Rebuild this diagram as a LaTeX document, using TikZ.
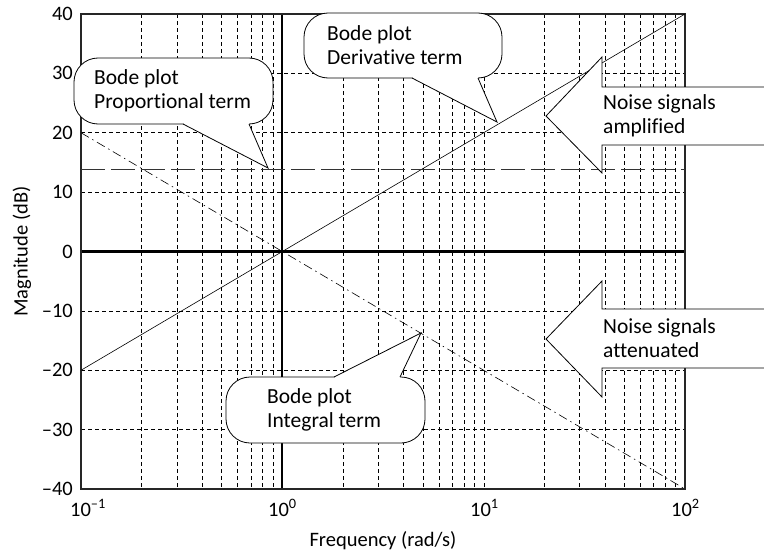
\documentclass[tikz,border=0pt]{standalone}
\usepackage{fontspec}
\setmainfont{Carlito}[Ligatures={NoCommon,NoDiscretionary,NoContextual}]
\begin{document}
\begin{tikzpicture}[x=1pt,y=-1pt,
  gridline/.style={black, line width=0.7pt, dash pattern=on 4pt off 3pt},
  boldline/.style={black, line width=2.2pt},
  frameline/.style={black!85, line width=1.1pt},
  callout/.style={draw=black, fill=white, line width=0.8pt},
  bigarrow/.style={draw=black, fill=white, line width=0.8pt},
  lbl/.style={font=\fontsize{20.5}{24}\selectfont, inner sep=0pt},
  txt/.style={font=\fontsize{21.5}{23.5}\selectfont, align=left, inner sep=0pt}]
\useasboundingbox (0,0) rectangle (764,554);
% grid
\foreach \k in {0,1,2}{
  \foreach \m in {2,...,9}{
    \pgfmathsetmacro\xx{81+201.33*(\k+log10(\m))}
    \draw[gridline] (\xx,14) -- (\xx,489);
  }
}
\draw[gridline] (484.33,14) -- (484.33,489);
\foreach \d in {-30,-20,-10,10,20,30}{
  \pgfmathsetmacro\yy{251.5-5.9375*\d}
  \draw[gridline] (81,\yy) -- (685,\yy);
}
% bold axes lines
\draw[boldline] (282.33,14) -- (282.33,489);
\draw[boldline] (81,251.5) -- (685,251.5);
% frame
\draw[frameline] (81,14) rectangle (685,489);
% curves
\draw[black, line width=0.6pt] (81,370.25) -- (685,14);
\draw[black, line width=0.6pt, dash pattern=on 9pt off 4pt on 1.5pt off 4pt] (81,132.75) -- (685,489);
\draw[black!80, line width=0.8pt, dash pattern=on 24pt off 6pt] (81,169) -- (685,169);
% callout: proportional
\draw[callout, rounded corners=24pt] (74,58) rectangle (273,124);
\fill[white] (183.5,122.5) -- (183.5,124) -- (268,168) -- (249,124) -- (249,122.5) -- cycle;
\draw[black, line width=0.8pt] (183,124) -- (268,168) -- (249,124);
\node[txt, anchor=west] (prop) at (94,91) {Bode plot\\Proportional term};
% callout: derivative
\draw[callout, rounded corners=24pt] (304,13) rectangle (502,78);
\fill[white] (412.5,76.5) -- (412.5,78) -- (497,122) -- (478,78) -- (478,76.5) -- cycle;
\draw[black, line width=0.8pt] (412,78) -- (497,122) -- (478,78);
\node[txt, anchor=west] (deriv) at (327,45) {Bode plot\\Derivative term};
% callout: integral
\draw[callout, rounded corners=24pt] (226,377) rectangle (425,443);
\fill[white] (334.5,378.5) -- (334.5,377) -- (421,333) -- (400,377) -- (400,378.5) -- cycle;
\draw[black, line width=0.8pt] (334,377) -- (421,333) -- (400,377);
\node[txt, anchor=west] (integ) at (267,410) {Bode plot\\Integral term};
% big arrows
\draw[bigarrow] (775,87) -- (602,87) -- (602,57) -- (546,116) -- (602,173) -- (602,145) -- (775,145);
\node[txt, anchor=west] (amp) at (603,116) {Noise signals\\amplified};
\draw[bigarrow] (775,309) -- (602,309) -- (602,281) -- (546,339) -- (602,397) -- (602,368) -- (775,368);
\node[txt, anchor=west] (att) at (603,338) {Noise signals\\attenuated};
% y tick labels
\foreach \d/\t in {40/40,30/30,20/20,10/10,0/0,-10/--10,-20/--20,-30/--30,-40/--40}{
  \pgfmathsetmacro\yy{251.5-5.9375*\d}
  \node[lbl, anchor=east] (yl\d) at (73,\yy) {\t};
}
% x tick labels
\node[lbl, anchor=west] (xl0) at (70,508) {10\textsuperscript{--1}};
\node[lbl, anchor=west] (xl1) at (268,508) {10\textsuperscript{0}};
\node[lbl, anchor=west] (xl2) at (470,508) {10\textsuperscript{1}};
\node[lbl, anchor=west] (xl3) at (671,508) {10\textsuperscript{2}};
% axis labels
\node[lbl, rotate=90] (ylab) at (22,251.5) {Magnitude (dB)};
\node[lbl] (xlab) at (383,541) {Frequency (rad/s)};
\end{tikzpicture}
\end{document}
